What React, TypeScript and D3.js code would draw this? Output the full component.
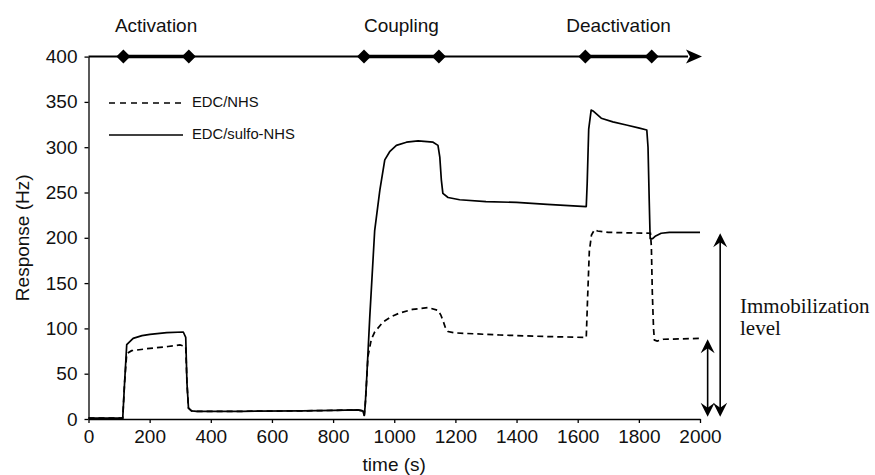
import * as React from "react";
import { useRef, useEffect } from "react";
import * as d3 from "d3";

// [time (s), response (Hz)]
const edcNhs: [number, number][] = [
  [0, 1], [112, 1], [118, 40], [125, 72], [141, 75.4], [201, 78], [260, 80],
  [299, 81.7], [318, 80], [322, 40], [327, 12], [337, 9], [354, 8.5], [500, 8.5],
  [700, 9], [800, 9.5], [880, 10], [897, 9], [902, 4], [906, 20], [914, 69],
  [925, 88], [936, 96], [963, 107], [990, 113], [1018, 117], [1060, 121],
  [1110, 123], [1143, 120], [1152, 115], [1159, 109], [1168, 100], [1176, 96.5],
  [1200, 95], [1345, 92.7], [1500, 91], [1628, 90], [1632, 130], [1638, 185],
  [1645, 203], [1655, 209], [1665, 207.5], [1700, 206], [1760, 205.5],
  [1838, 205], [1841, 190], [1844, 140], [1848, 100], [1851, 87], [1860, 86],
  [1880, 88], [2000, 89],
];

const edcSulfoNhs: [number, number][] = [
  [0, 1], [112, 1], [118, 40], [125, 82], [146, 89], [175, 92], [201, 93.5],
  [256, 95.3], [310, 96], [318, 90], [322, 40], [327, 12], [337, 9], [354, 8.5],
  [500, 8.5], [700, 9], [800, 9.5], [880, 10], [897, 9], [902, 4], [905, 15],
  [909, 39], [920, 113], [936, 208], [953, 253], [969, 286], [985, 295],
  [1007, 302], [1040, 305.5], [1078, 307], [1127, 305.5], [1143, 302],
  [1149, 289], [1154, 264], [1159, 249], [1176, 244.5], [1214, 242], [1300, 240],
  [1400, 239], [1500, 237], [1628, 234.5], [1631, 260], [1636, 320], [1644, 341],
  [1650, 340], [1677, 332], [1715, 328], [1759, 324.5], [1802, 321], [1826, 319],
  [1830, 300], [1834, 240], [1837, 199], [1845, 199], [1855, 202], [1873, 205],
  [1900, 206], [2000, 206],
];

const phaseNames = ["Activation", "Coupling", "Deactivation"];
const phaseStart = [114, 901, 1625];
const phaseEnd = [328, 1146, 1842];

const xTicks = [0, 200, 400, 600, 800, 1000, 1200, 1400, 1600, 1800, 2000];
const yTicks = [0, 50, 100, 150, 200, 250, 300, 350, 400];

// immobilization level markers: [x position (s), level (Hz)]
const levelArrows: [number, number][] = [
  [2025, 88],
  [2066, 205],
];

const App = () => {
  const svgRef = useRef<SVGSVGElement>(null);

  useEffect(() => {
    const svg = d3.select(svgRef.current).attr("width", 875).attr("height", 475);
    svg.selectAll("*").remove();

    const x = d3.scaleLinear().domain([0, 2000]).range([88.5, 700]);
    const y = d3.scaleLinear().domain([0, 400]).range([419, 56.6]);
    const font = "'Liberation Sans', Arial, sans-serif";
    const fmt = d3.format("d");

    // axes
    const yAxis = svg
      .append("g")
      .attr("transform", `translate(${x(0)},0)`)
      .call(d3.axisLeft(y).tickValues(yTicks).tickFormat(fmt).tickSize(4).tickSizeOuter(0).tickPadding(7));
    const xAxis = svg
      .append("g")
      .attr("transform", `translate(0,${y(0)})`)
      .call(d3.axisBottom(x).tickValues(xTicks).tickFormat(fmt).tickSize(4).tickSizeOuter(0).tickPadding(7));
    [xAxis, yAxis].forEach((g) => {
      g.selectAll("path, line").attr("stroke", "#000").attr("stroke-width", 1.3);
      g.selectAll("text").attr("font-family", font).attr("font-size", 19).attr("fill", "#111");
    });

    svg
      .append("text")
      .attr("transform", `translate(24,${(y(0) + y(400)) / 2}) rotate(-90)`)
      .attr("text-anchor", "middle")
      .attr("dominant-baseline", "middle")
      .attr("font-family", font)
      .attr("font-size", 19)
      .attr("fill", "#111")
      .text("Response (Hz)");
    svg
      .append("text")
      .attr("x", (x(0) + x(2000)) / 2)
      .attr("y", 471)
      .attr("text-anchor", "middle")
      .attr("font-family", font)
      .attr("font-size", 19)
      .attr("fill", "#111")
      .text("time (s)");

    // time line on top with phase markers
    const topY = y(400);
    svg
      .append("line")
      .attr("x1", x(0))
      .attr("x2", x(2000) - 12)
      .attr("y1", topY)
      .attr("y2", topY)
      .attr("stroke", "#000")
      .attr("stroke-width", 2);
    svg
      .append("path")
      .attr("d", `M${x(2000) + 2},${topY} L${x(2000) - 14},${topY - 7} L${x(2000) - 10},${topY} L${x(2000) - 14},${topY + 7} Z`)
      .attr("fill", "#000");

    phaseNames.forEach((name, i) => {
      const x0 = x(phaseStart[i]);
      const x1 = x(phaseEnd[i]);
      svg
        .append("line")
        .attr("x1", x0)
        .attr("x2", x1)
        .attr("y1", topY)
        .attr("y2", topY)
        .attr("stroke", "#000")
        .attr("stroke-width", 3.5);
      [x0, x1].forEach((cx) => {
        svg
          .append("path")
          .attr("d", `M${cx},${topY - 7} L${cx + 7},${topY} L${cx},${topY + 7} L${cx - 7},${topY} Z`)
          .attr("fill", "#000");
      });
      svg
        .append("text")
        .attr("x", (x0 + x1) / 2)
        .attr("y", 32)
        .attr("text-anchor", "middle")
        .attr("font-family", font)
        .attr("font-size", 19)
        .attr("fill", "#111")
        .text(name);
    });

    // curves
    const line = d3
      .line<[number, number]>()
      .x((d) => x(d[0]))
      .y((d) => y(d[1]));

    svg
      .append("path")
      .datum(edcSulfoNhs)
      .attr("fill", "none")
      .attr("stroke", "#000")
      .attr("stroke-width", 1.7)
      .attr("stroke-linejoin", "round")
      .attr("d", line);
    svg
      .append("path")
      .datum(edcNhs)
      .attr("fill", "none")
      .attr("stroke", "#000")
      .attr("stroke-width", 1.7)
      .attr("stroke-dasharray", "6,4")
      .attr("d", line);

    // legend
    const legend = [
      { label: "EDC/NHS", dash: "6,5", ly: 103 },
      { label: "EDC/sulfo-NHS", dash: null, ly: 135 },
    ];
    legend.forEach((d) => {
      svg
        .append("line")
        .attr("x1", 109)
        .attr("x2", 183)
        .attr("y1", d.ly)
        .attr("y2", d.ly)
        .attr("stroke", "#000")
        .attr("stroke-width", 1.5)
        .attr("stroke-dasharray", d.dash);
      svg
        .append("text")
        .attr("x", 192)
        .attr("y", d.ly)
        .attr("dominant-baseline", "middle")
        .attr("font-family", font)
        .attr("font-size", 14.8)
        .attr("fill", "#111")
        .text(d.label);
    });

    // immobilization level arrows
    const head = (tx: number, ty: number, dir: number) =>
      `M${tx},${ty} L${tx + 7},${ty + dir * 14} L${tx},${ty + dir * 9} L${tx - 7},${ty + dir * 14} Z`;
    levelArrows.forEach(([t, v]) => {
      const ax = x(t);
      const top = y(v);
      const bottom = y(2.5);
      svg
        .append("line")
        .attr("x1", ax)
        .attr("x2", ax)
        .attr("y1", top + 6)
        .attr("y2", bottom - 6)
        .attr("stroke", "#000")
        .attr("stroke-width", 1.6);
      svg.append("path").attr("d", head(ax, top, 1)).attr("fill", "#000");
      svg.append("path").attr("d", head(ax, bottom, -1)).attr("fill", "#000");
    });

    const serif = "'Liberation Serif', 'Times New Roman', serif";
    ["Immobilization", "level"].forEach((s, i) => {
      svg
        .append("text")
        .attr("x", 740)
        .attr("y", 313 + i * 22)
        .attr("font-family", serif)
        .attr("font-size", 21)
        .attr("fill", "#111")
        .text(s);
    });
  }, []);

  return (
    <div style={{ position: "absolute", left: 0, top: 0 }}>
      <svg ref={svgRef} style={{ display: "block", background: "#fff" }}></svg>
    </div>
  );
};

export default App;
